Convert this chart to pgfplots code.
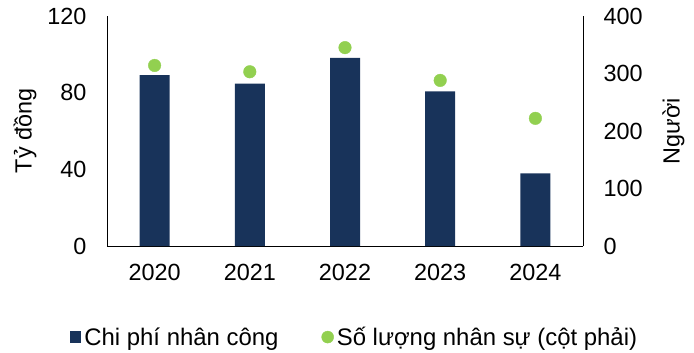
\documentclass[border=0pt]{standalone}
\usepackage{fontspec}
\setmainfont{Liberation Sans}
\usepackage{pgfplots}
\pgfplotsset{compat=1.18}
\definecolor{navy}{RGB}{24,51,90}
\definecolor{lgreen}{RGB}{146,208,80}
\begin{document}
\begin{tikzpicture}
\path[use as bounding box] (-107bp,-107bp) rectangle (587bp,246bp);
\begin{axis}[
  at={(0,0)}, anchor=south west,
  width=476bp, height=230bp, scale only axis,
  xmin=-0.5, xmax=4.5, ymin=0, ymax=120,
  ytick={0,40,80,120},
  xtick={0,...,4}, xticklabels={2020,2021,2022,2023,2024},
  axis x line*=bottom, axis y line*=left,
  major tick length=0pt,
  axis line style={black, line width=0.9bp, -},
  /pgf/number format/assume math mode=true,
  yticklabel style={font=\fontsize{23.5}{27}\selectfont, xshift=-17bp},
  xticklabel style={font=\fontsize{23.5}{27}\selectfont, yshift=-15bp},
  ylabel={Tỷ đồng},
  ylabel style={font=\fontsize{23.5}{27}\selectfont, yshift=4bp},
  legend style={at={(0.521,-0.396)}, anchor=center, draw=none,
    font=\fontsize{24}{27}\selectfont, legend columns=2,
    nodes={inner xsep=3bp},
    /tikz/every even column/.append style={column sep=40bp}},
]
\addplot[ybar, bar width=30bp, fill=navy, draw=none,
  legend image code/.code={\fill[navy] (0bp,-6bp) rectangle (11.5bp,6bp);}]
  coordinates {(0,89.2) (1,84.7) (2,98.1) (3,80.7) (4,37.9)};
\addlegendentry{Chi phí nhân công}
\addlegendimage{legend image code/.code={\fill[lgreen] (6bp,0bp) circle (6bp);}}
\addlegendentry{Số lượng nhân sự (cột phải)}
\end{axis}
\begin{axis}[
  at={(0,0)}, anchor=south west,
  width=476bp, height=230bp, scale only axis,
  xmin=-0.5, xmax=4.5, ymin=0, ymax=400,
  ytick={0,100,200,300,400},
  axis y line*=right, axis x line=none,
  major tick length=0pt,
  axis line style={black, line width=0.9bp, -},
  /pgf/number format/assume math mode=true,
  yticklabel style={font=\fontsize{23.5}{27}\selectfont, xshift=17bp},
  ylabel={Người},
  ylabel style={font=\fontsize{23.5}{27}\selectfont, yshift=-13bp},
]
\addplot[only marks, mark=*, mark size=6.3bp, color=lgreen]
  coordinates {(0,314) (1,303) (2,345) (3,288) (4,222)};
\end{axis}
\end{tikzpicture}
\end{document}
